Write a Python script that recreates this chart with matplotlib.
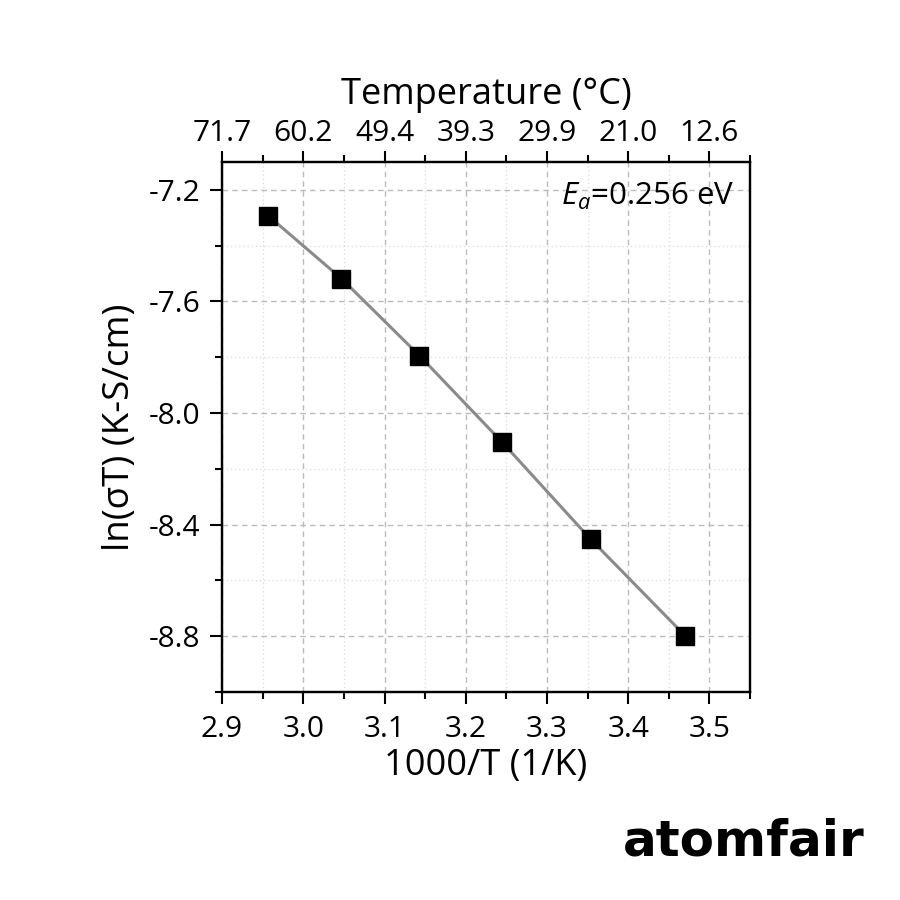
import matplotlib
matplotlib.use("Agg")
import matplotlib.pyplot as plt
from matplotlib.ticker import MultipleLocator, FixedLocator

# ---- data ----
inv_T = [2.957, 3.047, 3.143, 3.245, 3.354, 3.470]          # 1000/T (1/K)
ln_sigmaT = [-7.293, -7.518, -7.794, -8.105, -8.453, -8.798]  # ln(sigma*T)
x_ticks = [2.9, 3.0, 3.1, 3.2, 3.3, 3.4, 3.5]
top_tick_labels = ["71.7", "60.2", "49.4", "39.3", "29.9", "21.0", "12.6"]  # °C
y_ticks = [-7.2, -7.6, -8.0, -8.4, -8.8]
Ea_text = "$E_a$=0.256 eV"

plt.rcParams['font.family'] = ['Open Sans', 'DejaVu Sans']
plt.rcParams['mathtext.fontset'] = 'custom'
plt.rcParams['mathtext.rm'] = 'Open Sans'
plt.rcParams['mathtext.it'] = 'Open Sans:italic'

fig = plt.figure(figsize=(9, 9), dpi=100)
ax = fig.add_axes([0.2467, 0.2311, 0.5867, 0.5889])

ax.plot(inv_T, ln_sigmaT, color='#8a8a8a', lw=2.2, zorder=2)
ax.plot(inv_T, ln_sigmaT, ls='none', marker='s', ms=12.5, mfc='black',
        mec='black', mew=1, zorder=3)

ax.set_xlim(2.9, 3.55)
ax.set_ylim(-9.0, -7.1)
ax.xaxis.set_major_locator(FixedLocator(x_ticks))
ax.xaxis.set_minor_locator(MultipleLocator(0.05))
ax.yaxis.set_major_locator(FixedLocator(y_ticks))
ax.yaxis.set_minor_locator(MultipleLocator(0.2))
ax.set_xticklabels([f"{v:.1f}" for v in x_ticks])
ax.set_yticklabels([f"{v:.1f}" for v in y_ticks])

ax.grid(which='major', ls=(0, (4, 3)), color='#bbbbbb', lw=1.0)
ax.grid(which='minor', ls=(0, (1, 2)), color='#dddddd', lw=1.0)
ax.set_axisbelow(True)

for s in ax.spines.values():
    s.set_linewidth(1.6)
ax.tick_params(which='major', direction='out', length=8.5, width=1.5,
               labelsize=21.5, top=False, right=False)
ax.tick_params(axis='x', which='major', pad=8)
ax.tick_params(axis='y', which='major', pad=7)
ax.tick_params(which='minor', direction='out', length=5, width=1.5,
               top=False, right=False)

ax.set_xlabel("1000/T (1/K)", fontsize=26, labelpad=3)
ax.set_ylabel("ln(σT) (K-S/cm)", fontsize=26.5, labelpad=8)

# top axis in Celsius
ax2 = ax.twiny()
ax2.set_xlim(ax.get_xlim())
ax2.xaxis.set_major_locator(FixedLocator(x_ticks))
ax2.xaxis.set_minor_locator(MultipleLocator(0.05))
ax2.set_xticklabels(top_tick_labels)
ax2.tick_params(which='major', direction='out', length=8, width=1.5,
                labelsize=21.5, pad=2)
ax2.tick_params(which='minor', direction='out', length=5, width=1.5)
ax2.set_xlabel("Temperature (°C)", fontsize=26, labelpad=11)
for s in ax2.spines.values():
    s.set_linewidth(1.6)

ax.text(0.97, 0.935, Ea_text, transform=ax.transAxes, ha='right', va='center',
        fontsize=22.5)

fig.text(0.961, 0.05, "atomfair", ha='right', va='baseline', fontsize=36,
         fontweight='bold', family=['DejaVu Sans'])

fig.savefig("out.png", dpi=100)
